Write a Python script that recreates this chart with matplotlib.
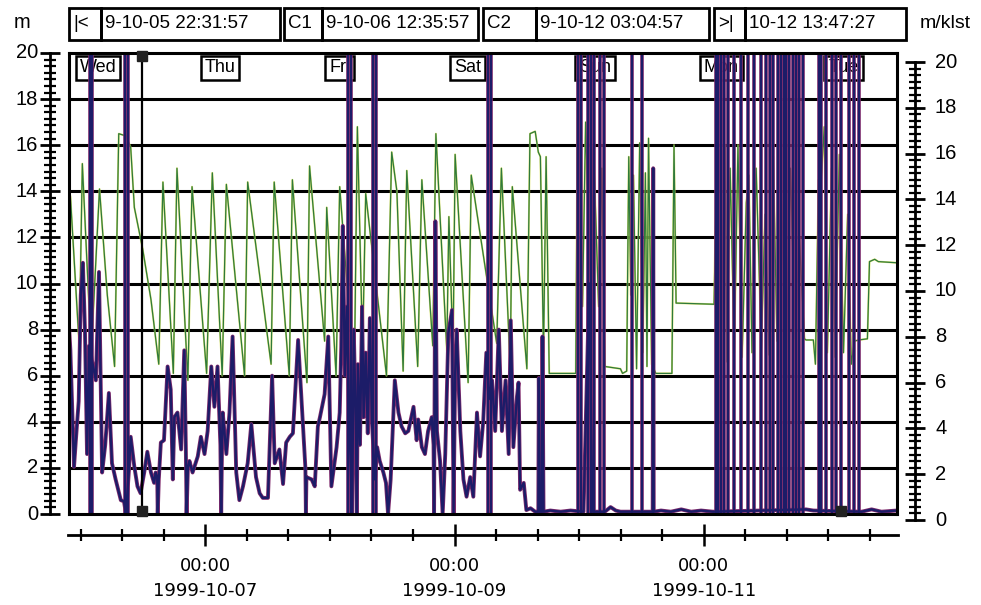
#recreate trend chart (scanned logger printout)
import pandas as pd
import matplotlib
matplotlib.use("Agg")
import matplotlib.pyplot as plt
from matplotlib.ticker import MultipleLocator, AutoMinorLocator, FixedLocator, NullLocator
from matplotlib.patches import Rectangle

# ---- data (hours after 1999-10-06 00:00) ----
t_start = "1999-10-05 22:31:57"
t_end = "1999-10-12 13:47:27"
t_c1 = "1999-10-06 12:35:57"
t_c2 = "1999-10-12 03:04:57"

day_names = ["Wed", "Thu", "Fri", "Sat", "Sun", "Mon", "Tue"]
day_starts = [0, 24, 48, 72, 96, 120, 144]

tick_hours = [24, 72, 120]
tick_labels = ["00:00\n1999-10-07", "00:00\n1999-10-09", "00:00\n1999-10-11"]

# green (thin) series
green_t = [-1.5, -1.2, 0.5, 1.1, 2.8, 4.4, 5.9, 7.3, 8.1, 9.5, 10.4, 11.1, 12.7, 14.3, 15.8,
           16.6, 18.6, 19.3, 21.4, 22.2, 25.0, 26.1, 28.0, 28.8, 32.3, 32.9, 37.4, 38.0,
           40.9, 41.5, 44.3, 44.8, 47.7, 48.1, 49.9, 50.6, 53.4, 54.0, 55.0, 55.6, 59.6,
           60.6, 61.6, 62.8, 63.5, 65.6, 66.4, 68.5, 69.1, 71.2, 71.6, 72.4, 72.8, 75.3,
           75.9, 77.1, 80.8, 81.7, 83.4, 83.8, 86.6, 87.2, 88.2, 88.8, 89.2, 89.8, 90.3,
           90.9, 96.0, 96.4, 97.3, 97.9, 98.9, 99.4, 100.4, 101.0, 101.6, 104.6, 105.0,
           105.8, 106.2, 106.6, 107.1, 107.7, 108.3, 108.9, 109.4, 109.7, 110.0, 110.6,
           111.4, 114.5, 114.9, 115.3, 122.6, 123.2, 123.9, 124.7, 125.1, 125.7, 126.5,
           127.2, 128.0, 128.8, 129.3, 129.9, 130.7, 131.7, 132.4, 133.2, 134.0, 134.7,
           135.5, 136.5, 137.3, 138.2, 139.0, 140.0, 140.3, 141.7, 142.1, 142.7, 143.2,
           143.8, 144.4, 145.2, 145.9, 146.7, 147.5, 148.3, 149.0, 149.6, 150.4, 152.1,
           152.5, 153.5, 154.2, 157.7]
green_v = [12.0, 13.8, 7.3, 15.2, 7.0, 14.1, 9.5, 6.4, 16.5, 16.4, 15.9, 13.3, 11.5, 9.3, 6.5,
           14.4, 6.1, 15.0, 5.8, 14.2, 6.1, 14.8, 6.0, 14.3, 6.0, 14.4, 6.5, 14.4,
           6.0, 14.5, 5.7, 15.1, 7.5, 13.3, 6.0, 14.2, 5.8, 16.8, 7.1, 13.9, 6.0,
           15.7, 14.0, 6.2, 14.9, 6.4, 14.5, 7.3, 16.5, 7.1, 12.9, 7.0, 15.6, 5.7,
           14.7, 12.9, 7.4, 15.0, 6.4, 14.2, 6.3, 16.5, 16.6, 15.7, 15.5, 7.0, 15.5,
           6.1, 6.1, 19.5, 9.0, 17.0, 8.5, 16.0, 9.0, 15.0, 6.4, 6.3, 6.1,
           6.2, 15.5, 9.5, 14.7, 6.3, 16.1, 7.0, 14.8, 6.4, 16.3, 6.5,
           6.1, 6.1, 16.0, 9.15, 9.1, 16.5, 7.0, 16.0, 6.6, 15.0, 7.0,
           16.0, 6.8, 13.5, 14.7, 7.0, 15.0, 7.2, 13.0, 6.9, 15.5, 7.5,
           14.0, 7.0, 15.0, 7.6, 12.0, 7.6, 7.55, 7.55, 6.5, 14.5, 14.5,
           16.8, 7.0, 15.0, 6.8, 15.6, 7.0, 13.0, 6.5, 7.5, 7.55, 7.6,
           10.95, 11.05, 10.95, 10.9]

# blue (thick) series
blue_t = [-1.5, -1.2, -0.5, -0.1, 0.4, 0.8, 1.2, 1.6, 2.0, 2.4, 3.1, 3.7, 4.3, 4.9, 5.5,
          6.2, 6.8, 7.5, 8.5, 9.1, 9.5, 10.1, 10.4, 11.1, 11.7, 12.3, 13.0, 13.6, 14.3,
          14.9, 15.2, 15.5, 15.6, 15.8, 16.2, 16.8, 17.5, 18.1, 18.5, 18.8, 19.4, 20.1,
          20.7, 21.0, 21.15, 21.4, 21.7, 22.3, 23.3, 23.9, 24.6, 25.2, 25.9, 26.5, 27.1,
          27.65, 27.8, 28.0, 28.1, 28.8, 29.4, 30.0, 30.7, 31.3, 32.0, 32.9, 33.6, 34.5,
          35.2, 35.8, 36.8, 37.6, 38.1, 39.0, 39.7, 40.3, 41.0, 41.6, 42.6, 43.5, 44.0,
          44.1, 44.2, 45.2, 45.8, 46.4, 46.8, 47.7, 48.4, 49.0, 50.0, 50.6, 50.9, 51.2,
          51.6, 52.0, 52.4, 53.0, 53.3, 53.7, 53.9, 54.1, 54.5, 54.9, 55.2, 55.6, 56.0,
          56.4, 56.8, 57.4, 57.8, 58.3, 59.0, 59.5, 59.9, 60.4, 61.2, 61.9, 62.5, 63.2,
          63.8, 64.8, 65.4, 65.7, 66.4, 67.0, 67.6, 68.3, 68.65, 68.75, 69.0, 69.3, 69.9,
          70.4, 70.9, 71.5, 72.2, 72.5, 72.8, 73.1, 73.8, 74.4, 75.0, 75.7, 76.3, 77.0,
          77.6, 78.2, 78.8, 79.4, 79.9, 80.5, 81.2, 81.8, 82.5, 83.1, 83.5, 84.0, 84.7,
          85.0, 85.3, 86.0, 86.5, 87.3, 88.2, 88.8, 88.9, 89.1, 89.5, 89.6, 89.8, 91.1,
          93.1, 95.0, 97.5, 98.6, 99.2, 101.6, 102.7, 103.7, 104.6, 110.8, 110.9, 111.0,
          112.4, 114.3, 116.3, 118.2, 120.1, 122.4, 140.3, 141.7, 151.0, 152.9, 154.8,
          157.7]
blue_v = [8.3, 7.1, 2.05, 3.35, 4.9, 9.5, 10.9, 8.0, 2.6, 7.3, 6.5, 5.8, 10.5, 1.8, 3.0,
          5.25, 2.2, 1.5, 0.6, 0.55, 0.0, 2.05, 3.35, 2.05, 1.2, 0.9, 1.8, 2.7, 1.8,
          1.35, 1.8, 1.6, 0.0, 1.5, 3.1, 3.2, 6.4, 5.4, 1.5, 4.2, 4.4, 2.8,
          7.1, 3.0, 0.0, 2.0, 2.3, 1.8, 2.5, 3.35, 2.6, 3.6, 6.4, 4.65, 6.4,
          3.0, 0.0, 3.5, 4.4, 2.6, 4.4, 7.7, 1.8, 0.6, 1.2, 2.2, 3.9, 1.6,
          0.9, 0.7, 0.7, 6.0, 2.2, 2.8, 1.3, 3.1, 3.35, 3.5, 7.55, 4.0, 2.0,
          0.0, 1.6, 1.5, 1.2, 3.8, 4.2, 5.2, 7.7, 1.2, 2.9, 4.4, 7.25, 12.5,
          6.0, 9.0, 4.5, 0.0, 8.0, 4.0, 0.0, 6.5, 3.0, 9.0, 4.2, 7.0, 3.5,
          8.5, 4.0, 1.5, 2.9, 2.3, 1.8, 1.35, 0.0, 1.5, 5.8, 4.4, 3.8, 3.5,
          3.6, 4.65, 3.2, 4.1, 2.9, 2.6, 3.6, 4.2, 3.0, 0.0, 12.7, 3.6, 2.3,
          0.0, 2.6, 7.85, 8.85, 0.0, 6.0, 8.0, 3.6, 1.5, 0.75, 1.6, 0.75, 4.4,
          2.5, 4.0, 7.0, 5.0, 5.8, 3.6, 8.0, 3.6, 5.8, 2.6, 8.4, 2.9, 5.1,
          5.7, 1.05, 1.35, 0.17, 0.25, 0.1, 0.1, 5.9, 0.1, 0.1, 7.7, 0.1, 0.15,
          0.1, 0.15, 0.1, 10.0, 0.1, 0.1, 0.3, 0.15, 0.1, 0.1, 15.0, 0.1,
          0.15, 0.1, 0.2, 0.1, 0.15, 0.1, 0.2, 0.15, 0.1, 0.2, 0.1,
          0.15]

# times where the blue trace shoots off scale
blue_spikes = [2.5, 3.0, 9.3, 9.8, 52.2, 52.7, 57.1, 57.6, 79.1, 79.7,
               96.5, 97.1, 98.3, 98.9, 99.6, 100.6, 101.4, 106.8, 108.7,
               123.0, 123.4, 123.9, 124.5, 125.3, 126.5, 127.8, 129.2, 130.3, 131.7,
               132.6, 133.4, 134.0, 134.9, 135.5, 136.1, 136.5, 137.1, 137.8, 138.4,
               139.0, 139.8, 142.7, 143.2, 144.2, 145.2, 146.1, 147.1, 148.6, 149.6,
               150.4]


def to_h(s):
    return (pd.Timestamp(s) - pd.Timestamp("1999-10-06")).total_seconds() / 3600


W, H = 981, 605
fig = plt.figure(figsize=(W / 100, H / 100), dpi=100)


def px_axes(x0, y0, x1, y1):
    return fig.add_axes([x0 / W, 1 - y1 / H, (x1 - x0) / W, (y1 - y0) / H])


NAVY = "#1c1c68"
PURPLE = "#7e2a6c"
GREEN = "#2f7a3c"
YELLOW = "#d9e04e"

# main plot area
ax = px_axes(69, 53, 897, 514)
ax.set_xlim(to_h(t_start), to_h(t_end))
ax.set_ylim(0, 20)
ax.xaxis.set_major_locator(NullLocator())
ax.yaxis.set_major_locator(NullLocator())
for sp in ax.spines.values():
    sp.set_linewidth(2.2)
    sp.set_zorder(6)
for g in range(2, 20, 2):
    ax.axhline(g, color="black", lw=2.2, zorder=1)

for name, d in zip(day_names, day_starts):
    ax.text(d + 0.6, 19.35, name, ha="left", va="center", fontsize=13,
            family="Liberation Sans", zorder=1.5,
            bbox=dict(boxstyle="square,pad=0.22", fc="white", ec="black", lw=1.8))

ax.plot(green_t, green_v, color=YELLOW, lw=1.4, alpha=0.8, zorder=2)
ax.plot(green_t, green_v, color=GREEN, lw=0.9, zorder=2.1)

ax.plot(blue_t, blue_v, color=PURPLE, lw=2.8, zorder=3, solid_joinstyle="round")
ax.vlines(blue_spikes, 0, 20, color=PURPLE, lw=2.6, zorder=3)
ax.plot(blue_t, blue_v, color=NAVY, lw=1.7, zorder=3.1, solid_joinstyle="round")
ax.vlines(blue_spikes, 0, 20, color=NAVY, lw=1.5, zorder=3.1)

# cursors
ax.axvline(to_h(t_c1), color="black", lw=1.6, zorder=4)
ax.plot([to_h(t_c1), to_h(t_c1)], [0.15, 19.85], "s", color="#222222", ms=7,
        clip_on=False, zorder=7)
ax.axvline(to_h(t_c2), color="black", lw=1.4, zorder=2.5)
ax.plot([to_h(t_c2)], [0.15], "s", color="#222222", ms=7, clip_on=False, zorder=7)

# left scale
axl = px_axes(40, 53, 50, 514)
axl.set_ylim(0, 20)
axl.patch.set_visible(False)
for k in ["top", "bottom", "left"]:
    axl.spines[k].set_visible(False)
axl.spines["right"].set_linewidth(2)
axl.yaxis.tick_right()
axl.xaxis.set_major_locator(NullLocator())
axl.yaxis.set_major_locator(MultipleLocator(2))
axl.yaxis.set_minor_locator(AutoMinorLocator(7))
axl.tick_params(axis="y", which="major", direction="inout", length=14, width=2,
                labelright=False, labelleft=False)
axl.tick_params(axis="y", which="minor", direction="inout", length=8, width=1.6)
for v in range(0, 21, 2):
    axl.text(-0.2, v, str(v), transform=axl.get_yaxis_transform(), ha="right",
             va="center", fontsize=14.5, family="Liberation Sans")

# right scale
axr = px_axes(915, 62, 925, 520)
axr.set_ylim(0, 20)
axr.patch.set_visible(False)
for k in ["top", "bottom", "right"]:
    axr.spines[k].set_visible(False)
axr.spines["left"].set_linewidth(2)
axr.xaxis.set_major_locator(NullLocator())
axr.yaxis.set_major_locator(MultipleLocator(2))
axr.yaxis.set_minor_locator(AutoMinorLocator(7))
axr.tick_params(axis="y", which="major", direction="inout", length=14, width=2,
                labelleft=False)
axr.tick_params(axis="y", which="minor", direction="inout", length=8, width=1.6)
for v in range(0, 21, 2):
    axr.text(2.0, v, str(v), transform=axr.get_yaxis_transform(), ha="left",
             va="center", fontsize=14.5, family="Liberation Sans")

# time scale below
axb = px_axes(68, 525, 898, 535)
h_per_px = 1 / 5.183
axb.set_xlim(to_h(t_start) - 5 * h_per_px, to_h(t_end) - 2 * h_per_px)
axb.patch.set_visible(False)
for k in ["top", "left", "right"]:
    axb.spines[k].set_visible(False)
axb.spines["bottom"].set_linewidth(2)
axb.yaxis.set_major_locator(NullLocator())
axb.xaxis.set_major_locator(FixedLocator(tick_hours))
axb.xaxis.set_minor_locator(MultipleLocator(8))
axb.set_xticklabels(tick_labels, fontsize=13, family="DejaVu Sans", linespacing=1.45)
axb.tick_params(axis="x", which="major", direction="inout", length=16, width=1.8, pad=8)
axb.tick_params(axis="x", which="minor", direction="inout", length=9, width=1.6)

# header
ov = fig.add_axes([0, 0, 1, 1])
ov.set_xlim(0, W)
ov.set_ylim(H, 0)
ov.axis("off")
ov.text(22, 22, "m", fontsize=14.5, family="Liberation Sans", ha="center", va="center")
ov.text(945, 24, "m/klst", fontsize=14, family="Liberation Sans", ha="center", va="center")
boxes = [(69, 101, "|<"), (101, 280, "9-10-05 22:31:57"),
         (284, 322, "C1"), (322, 478, "9-10-06 12:35:57"),
         (483, 536, "C2"), (536, 709, "9-10-12 03:04:57"),
         (714, 745, ">|"), (745, 906, "10-12 13:47:27")]
for x0, x1, s in boxes:
    ov.add_patch(Rectangle((x0, 8), x1 - x0, 32, fill=False, ec="black", lw=2))
    ov.text(x0 + 4, 24, s, fontsize=13.5, family="Liberation Sans", ha="left", va="center")

fig.savefig("out.png", dpi=100)
